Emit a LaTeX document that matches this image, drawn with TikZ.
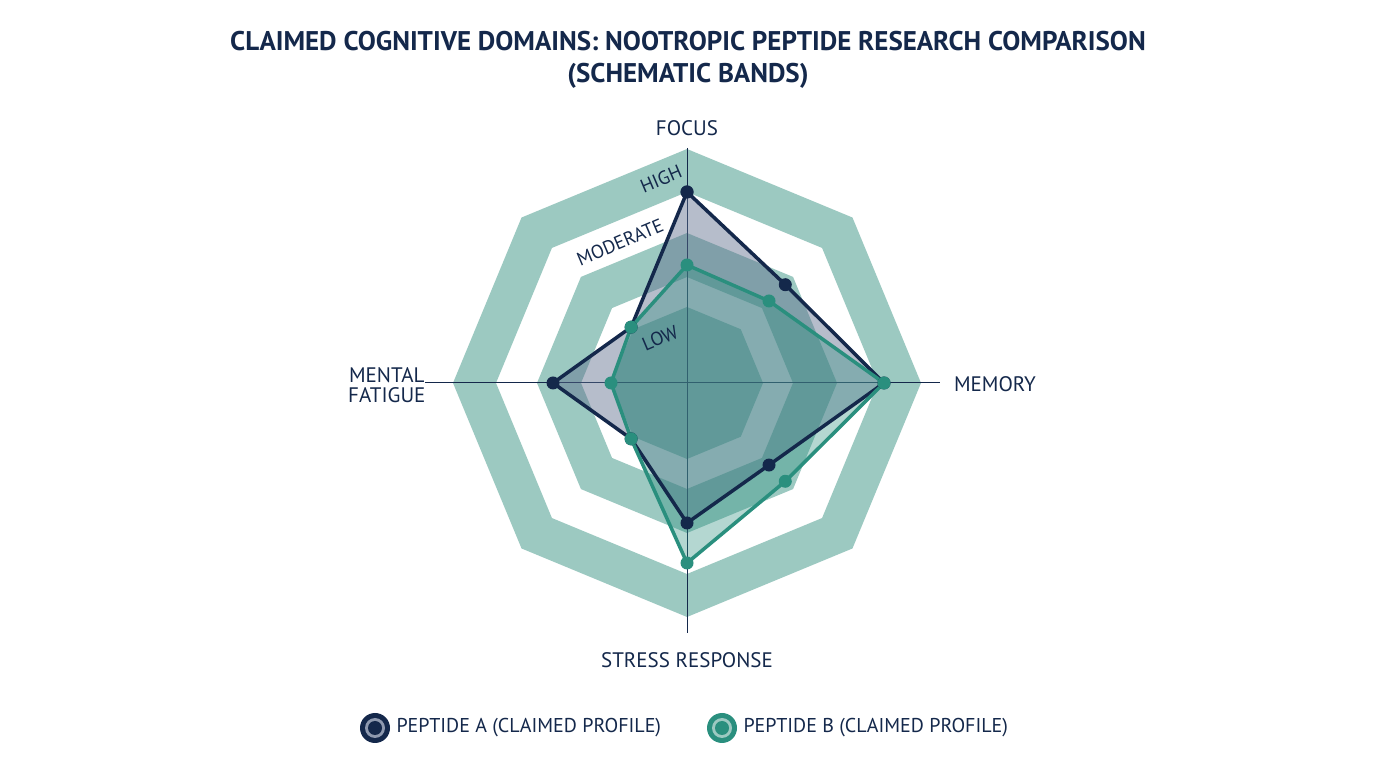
\documentclass[tikz,border=0pt]{standalone}
\usepackage{fontspec}
\setmainfont{PT Sans}
\begin{document}
\begin{tikzpicture}[x=1pt,y=1pt,
  band/.style={fill=bandc,draw=none},
  dotA/.style={circle,fill=navy,inner sep=0,minimum size=13pt},
  dotB/.style={circle,fill=tealc,inner sep=0,minimum size=13pt},
  lab/.style={text=navy,font=\fontsize{21}{24}\selectfont},
  blab/.style={text=navy,font=\fontsize{19}{21}\selectfont,rotate=23}]
\definecolor{navy}{HTML}{14284B}
\definecolor{tealc}{HTML}{2A8F7E}
\definecolor{bandc}{HTML}{9CC9C1}
\definecolor{slate}{HTML}{5E6E8C}
\useasboundingbox (0,0) rectangle (1376,768);
\fill[white] (0,0) rectangle (1376,768);
\begin{scope}[shift={(687,385)}]
\def\oct#1{(0:#1)--(45:#1)--(90:#1)--(135:#1)--(180:#1)--(225:#1)--(270:#1)--(315:#1)--cycle}
\fill[bandc,even odd rule] \oct{234} \oct{191};
\fill[bandc,even odd rule] \oct{150} \oct{106};
\fill[bandc] \oct{76};
\draw[navy,line width=1pt] (-262,0) -- (253,0);
\draw[navy,line width=1pt] (0,235) -- (0,-250);
\path (90:191) coordinate (a1) (45:139) coordinate (a2) (0:197) coordinate (a3)
 (-45:116) coordinate (a4) (-90:140) coordinate (a5) (-135:79) coordinate (a6)
 (180:134) coordinate (a7) (135:79) coordinate (a8);
\path (90:118) coordinate (b1) (45:116) coordinate (b2) (0:197) coordinate (b3)
 (-45:139) coordinate (b4) (-90:180) coordinate (b5) (-135:79) coordinate (b6)
 (180:76) coordinate (b7) (135:79) coordinate (b8);
\fill[slate,opacity=0.45] (a1)--(a2)--(a3)--(a4)--(a5)--(a6)--(a7)--(a8)--cycle;
\fill[tealc,opacity=0.35] (b1)--(b2)--(b3)--(b4)--(b5)--(b6)--(b7)--(b8)--cycle;
\draw[navy,line width=3.5pt,line join=round] (a1)--(a2)--(a3)--(a4)--(a5)--(a6)--(a7)--(a8)--cycle;
\draw[tealc,line width=3.5pt,line join=round] (b1)--(b2)--(b3)--(b4)--(b5)--(b6)--(b7)--(b8)--cycle;
\foreach \i in {1,...,8}{\node[dotA] (pa\i) at (a\i) {};}
\foreach \i in {1,...,8}{\node[dotB] (pb\i) at (b\i) {};}
\node[dotA] at (a1) {};
\node[blab] (hi) at (-26,204) {HIGH};
\node[blab] (mo) at (-67,141) {MODERATE};
\node[blab] (lo) at (-27,45) {LOW};
\end{scope}
\node[lab] (f) at (687,640) {FOCUS};
\node[lab] (m) at (995,384) {MEMORY};
\node[lab] (s) at (687,108) {STRESS RESPONSE};
\node[lab,align=center,anchor=east] (mf) at (429,383) {MENTAL\\[-4pt]FATIGUE};
\node[text=navy,font=\bfseries\fontsize{27}{32}\selectfont,align=center] (t) at (688,708)
 {CLAIMED COGNITIVE DOMAINS: NOOTROPIC PEPTIDE RESEARCH COMPARISON\\(SCHEMATIC BANDS)};
\node[circle,fill=navy,inner sep=0,minimum size=30pt] (la) at (375,40) {};
\node[circle,fill=slate!70,inner sep=0,minimum size=20pt] at (la) {};
\node[circle,fill=navy,inner sep=0,minimum size=14pt] at (la) {};
\node[lab,anchor=west,font=\fontsize{20}{22}\selectfont] (ta) at (393,40) {PEPTIDE A (CLAIMED PROFILE)};
\node[circle,fill=tealc,inner sep=0,minimum size=30pt] (lb) at (722,40) {};
\node[circle,fill=bandc,inner sep=0,minimum size=20pt] at (lb) {};
\node[circle,fill=tealc,inner sep=0,minimum size=14pt] at (lb) {};
\node[lab,anchor=west,font=\fontsize{20}{22}\selectfont] (tb) at (740,40) {PEPTIDE B (CLAIMED PROFILE)};
\end{tikzpicture}
\end{document}
